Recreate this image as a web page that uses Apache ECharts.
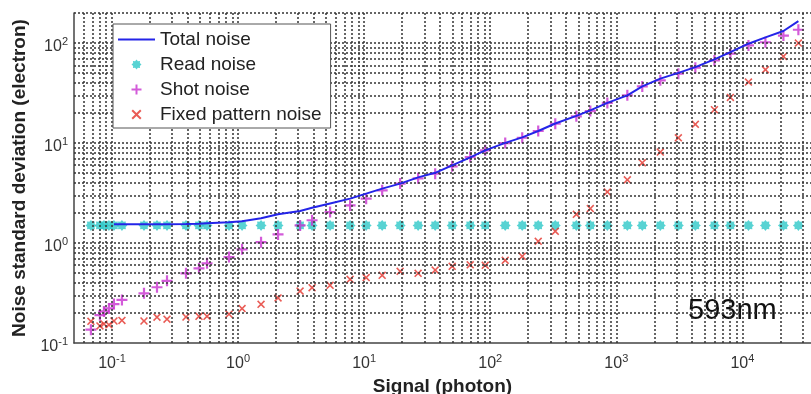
<!DOCTYPE html>
<html>
<head>
<meta charset="utf-8">
<script src="https://cdn.jsdelivr.net/npm/echarts@6/dist/echarts.min.js"></script>
<style>
  html, body { margin: 0; padding: 0; background: #fff; }
  #chart { width: 811px; height: 394px; }
</style>
</head>
<body>
<div id="chart"></div>
<script>
// signal levels (photon)
var signal = [0.0681, 0.0803, 0.0864, 0.0946, 0.1037, 0.120, 0.1795, 0.2276, 0.2733, 0.3865,
  0.490, 0.5675, 0.848, 1.076, 1.522, 2.076, 3.105, 3.864, 5.37, 7.74,
  10.38, 13.9, 19.3, 26.8, 36.6, 49.9, 69.4, 91.3, 131.5, 179.4,
  240.3, 328, 482, 622, 849, 1223, 1607, 2234, 3105, 4234,
  5998, 8035, 11170, 15230, 21150, 27800]

var readNoise = [1.5, 1.5, 1.5, 1.5, 1.5, 1.5, 1.5, 1.5, 1.5, 1.5,
  1.5, 1.5, 1.5, 1.5, 1.5, 1.5, 1.5, 1.5, 1.5, 1.5,
  1.5, 1.5, 1.5, 1.5, 1.5, 1.5, 1.5, 1.5, 1.5, 1.5,
  1.5, 1.5, 1.5, 1.5, 1.5, 1.5, 1.5, 1.5, 1.5, 1.5,
  1.5, 1.5, 1.5, 1.5, 1.5, 1.5]

var shotNoise = [0.136, 0.19, 0.207, 0.222, 0.245, 0.27, 0.314, 0.361, 0.419, 0.498,
  0.558, 0.627, 0.724, 0.865, 1.02, 1.22, 1.50, 1.69, 2.04, 2.38,
  2.78, 3.37, 3.93, 4.44, 4.94, 5.85, 7.24, 8.45, 10.0, 11.3,
  13.2, 15.6, 18.5, 20.9, 25.2, 30.0, 36.9, 42.4, 49.4, 56.8,
  67.1, 78.3, 94.8, 102, 119, 136]

var fixedNoise = [0.165, 0.148, 0.155, 0.152, 0.166, 0.168, 0.166, 0.181, 0.173, 0.182,
  0.185, 0.185, 0.194, 0.221, 0.244, 0.282, 0.331, 0.358, 0.378, 0.434,
  0.451, 0.475, 0.521, 0.498, 0.537, 0.585, 0.605, 0.598, 0.671, 0.736,
  1.04, 1.31, 1.94, 2.21, 3.24, 4.29, 6.34, 8.13, 11.3, 15.4,
  21.6, 28.6, 40.7, 54.2, 73.6, 100]

var totalNoise = [null, null, null, null, 1.54, 1.54, 1.54, 1.54, 1.54, 1.55,
  1.56, 1.58, 1.61, 1.65, 1.77, 1.94, 2.09, 2.25, 2.49, 2.78,
  3.12, 3.50, 3.93, 4.54, 5.04, 5.98, 7.19, 8.45, 10.05, 11.4,
  13.2, 15.7, 18.7, 21.2, 25.2, 30.0, 36.9, 44.1, 50.4, 57.5,
  68.7, 81.3, 98.6, 114, 132, 166]

var seriesNames = ['Total noise', 'Read noise', 'Shot noise', 'Fixed pattern noise']

function pairs(ys) {
  return signal.map(function (s, i) { return [s, ys[i]] })
}

// 1..9 x 10^d grid lines inside [lo, hi]
function logGrid(lo, hi) {
  var out = []
  for (var d = -3; d <= 6; d++) {
    for (var k = 1; k <= 9; k++) {
      var v = +(k * Math.pow(10, d)).toPrecision(3)
      if (v >= lo * 0.999 && v <= hi * 1.001) out.push(v)
    }
  }
  return out
}

function powLabel(v) {
  var e = Math.log10(v)
  if (Math.abs(e - Math.round(e)) > 1e-6) return ''
  return '{b|10}{s|' + Math.round(e) + '}'
}

var gridStyle = { type: [2, 2], color: '#333', width: 1.5 }
var xMin = 0.05, xMax = 35000, yMin = 0.1, yMax = 200

var gridLines = logGrid(xMin, xMax).filter(function (v) { return v > xMin })
  .map(function (v) { return { xAxis: v } })
  .concat(logGrid(yMin, yMax).filter(function (v) { return v > yMin })
  .map(function (v) { return { yAxis: v } }))

var plus = 'path://M4,0H6V4H10V6H6V10H4V6H0V4H4Z'
var cross = 'path://M1.4,0L5,3.6L8.6,0L10,1.4L6.4,5L10,8.6L8.6,10L5,6.4L1.4,10L0,8.6L3.6,5L0,1.4Z'
var star = 'path://M10,5L8.33,6.38L8.54,8.54L6.38,8.33L5,10L3.62,8.33L1.46,8.54L1.67,6.38L0,5L1.67,3.62L1.46,1.46L3.62,1.67L5,0L6.38,1.67L8.54,1.46L8.33,3.62Z'

var labelRich = {
  b: { fontSize: 16, color: '#333', fontFamily: 'Liberation Sans' },
  s: { fontSize: 11, color: '#333', fontFamily: 'Liberation Sans', padding: [0, 0, 11, 0] }
}

var chart = echarts.init(document.getElementById('chart'))
chart.setOption({
  animation: false,
  textStyle: { fontFamily: 'Liberation Sans' },
  grid: { left: 74, top: 13, right: 0, bottom: 51, outerBoundsMode: 'none', containLabel: false },
  legend: {
    orient: 'vertical',
    left: 113,
    top: 24,
    z: 50,
    data: [
      { name: seriesNames[0], icon: 'path://M0,0H37V2H0Z' },
      seriesNames[1], seriesNames[2],
      { name: seriesNames[3], icon: cross }
    ],
    itemWidth: 37,
    itemHeight: 10,
    itemGap: 6,
    padding: [6, 9, 4, 5],
    backgroundColor: '#fff',
    borderColor: '#555',
    borderWidth: 1,
    textStyle: { fontSize: 19, color: '#222', lineHeight: 19 }
  },
  xAxis: {
    type: 'log',
    min: xMin,
    max: xMax,
    name: 'Signal (photon)',
    nameLocation: 'middle',
    nameGap: 33,
    nameTextStyle: { fontSize: 19, fontWeight: 'bold', color: '#222' },
    axisLine: { lineStyle: { color: '#444', width: 1.5 } },
    axisTick: { show: false },
    splitLine: { show: false },
    axisLabel: { margin: 10, formatter: powLabel, rich: labelRich }
  },
  yAxis: {
    type: 'log',
    min: yMin,
    max: yMax,
    name: 'Noise standard deviation (electron)',
    nameLocation: 'middle',
    nameGap: 37,
    nameTextStyle: { fontSize: 19, fontWeight: 'bold', color: '#222' },
    axisLine: { show: true, lineStyle: { color: '#444', width: 1.5 } },
    axisTick: { show: false },
    splitLine: { show: false },
    axisLabel: { margin: 6, padding: [8, 0, 0, 0], formatter: powLabel, rich: labelRich }
  },
  graphic: [{
    type: 'text',
    left: 688,
    top: 296,
    style: { text: '593nm', fontSize: 29, fill: '#111', fontFamily: 'Liberation Sans' }
  }],
  series: [
    {
      name: 'grid',
      type: 'line',
      data: [],
      z: 1,
      markLine: {
        silent: true,
        symbol: ['none', 'none'],
        label: { show: false },
        lineStyle: gridStyle,
        emphasis: { disabled: true },
        data: gridLines
      }
    },
    {
      name: 'Total noise',
      type: 'line',
      data: pairs(totalNoise),
      showSymbol: false,
      symbol: 'none',
      z: 5,
      color: '#2424e8',
      lineStyle: { color: '#2424e8', width: 2 }
    },
    {
      name: 'Read noise',
      type: 'scatter',
      data: pairs(readNoise),
      symbol: star,
      symbolSize: 11,
      symbolKeepAspect: true,
      z: 3,
      itemStyle: { color: '#2ec8c8' }
    },
    {
      name: 'Shot noise',
      type: 'scatter',
      data: pairs(shotNoise),
      symbol: plus,
      symbolSize: 11,
      symbolKeepAspect: true,
      z: 4,
      itemStyle: { color: '#c832d0' }
    },
    {
      name: 'Fixed pattern noise',
      type: 'scatter',
      data: pairs(fixedNoise),
      symbol: cross,
      symbolSize: 8,
      symbolKeepAspect: true,
      z: 4,
      itemStyle: { color: '#e4322a' }
    }
  ]
})
</script>
</body>
</html>
